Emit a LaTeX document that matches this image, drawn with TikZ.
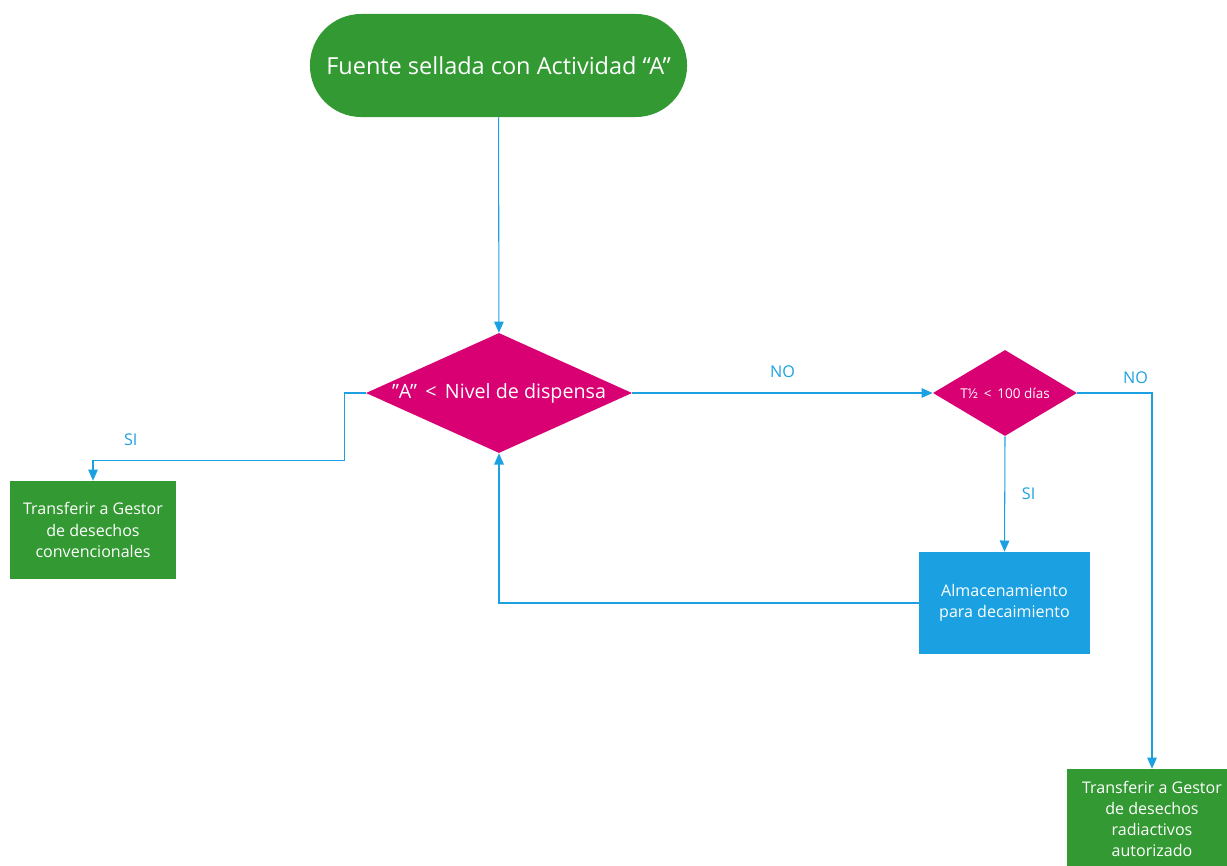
\documentclass[tikz,border=0pt]{standalone}
\usepackage{fontspec}
\setmainfont{Open Sans}
\usepackage{xcolor}
\usetikzlibrary{shapes.geometric, arrows.meta, positioning, calc}

\definecolor{flowgreen}{RGB}{51,153,51}
\definecolor{flowpink}{RGB}{216,0,115}
\definecolor{flowblue}{RGB}{27,161,226}

\begin{document}
\begin{tikzpicture}[
  x=0.025cm, y=-0.025cm,
  term/.style={rectangle, fill=flowgreen, rounded corners=1.28cm, minimum width=9.425cm, minimum height=2.575cm, align=center, text=white, font=\fontsize{16.7}{20}\selectfont},
  decision/.style={diamond, fill=flowpink, inner sep=0pt, text=white},
  box/.style={rectangle, fill=flowgreen, inner sep=0pt, align=center, text=white, font=\fontsize{11.4}{15}\selectfont},
  storebox/.style={rectangle, fill=flowblue, inner sep=0pt, align=center, text=white, font=\fontsize{11.4}{15}\selectfont},
  lbl/.style={text=flowblue, font=\fontsize{11.5}{13}\selectfont},
  arrow/.style={-{Triangle[length=2.8mm, width=2.4mm]}, line width=0.75pt, draw=flowblue}
]
\useasboundingbox (0,0) rectangle (1227,866);

% Nodes
\node[term] (start) at (498.5,65.5) {Fuente sellada con Actividad “A”};
\node[decision, aspect=2.2, minimum width=6.65cm, minimum height=3cm, font=\fontsize{14}{16}\selectfont] (dispensa) at (499,393) {”A” \,<\, Nivel de dispensa};
\node[decision, aspect=1.67, minimum width=3.6cm, minimum height=2.15cm, font=\fontsize{9.6}{11}\selectfont] (periodo) at (1005,393) {T½ \,<\, 100 días};
\node[box, minimum width=4.15cm, minimum height=2.45cm] (conv) at (93,530) {Transferir a Gestor\\de desechos\\convencionales};
\node[storebox, minimum width=4.275cm, minimum height=2.55cm] (almac) at (1004.5,603) {Almacenamiento\\para decaimiento};
\node[box, minimum width=4.25cm, minimum height=2.5cm] (rad) at (1152,819) {Transferir a Gestor\\de desechos\\radiactivos\\autorizado};

% Arrows
\draw[arrow] (start) -- (dispensa);
\draw[arrow] (dispensa.west) -- ++(-21,0) |- node[lbl, pos=0.925, above=0.25cm] (siconv) {SI} ([yshift=0.5cm]conv.north) -- (conv.north);
\draw[arrow] (dispensa.east) -- node[lbl, above=0.25cm] (nodisp) {NO} (periodo.west);
\draw[arrow] (periodo.east) -| node[lbl, pos=0.39, above=0.1cm] (noper) {NO} (rad.north);
\draw[arrow] (periodo.south) -- node[lbl, right=0.3cm] (siper) {SI} (almac.north);
\draw[arrow] (almac.west) -| (dispensa.south);

\end{tikzpicture}
\end{document}
